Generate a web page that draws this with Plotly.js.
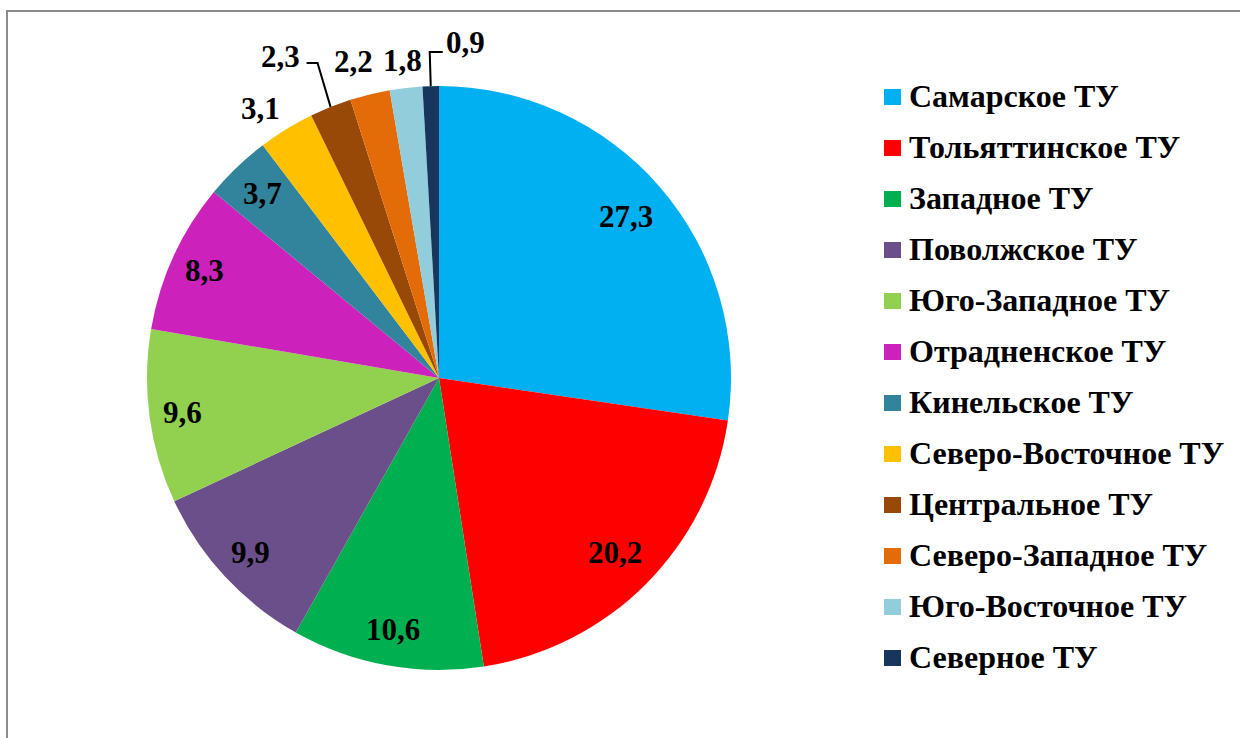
<!DOCTYPE html>
<html>
<head>
<meta charset="utf-8">
<script src="https://cdn.plot.ly/plotly-3.0.1.min.js"></script>
<style>html,body{margin:0;padding:0;background:#fff;}#chart{width:1240px;height:738px;}</style>
</head>
<body>
<div id="chart"></div>
<script>
const categories = ["Самарское ТУ","Тольяттинское ТУ","Западное ТУ","Поволжское ТУ","Юго-Западное ТУ","Отрадненское ТУ","Кинельское ТУ","Северо-Восточное ТУ","Центральное ТУ","Северо-Западное ТУ","Юго-Восточное ТУ","Северное ТУ"];
const shares = [27.3, 20.2, 10.6, 9.9, 9.6, 8.3, 3.7, 3.1, 2.3, 2.2, 1.8, 0.9];
const colors = ["#00B0F0","#FF0000","#00B050","#6A4F8A","#92D050","#CC22BB","#31849B","#FFC000","#984807","#E36C09","#92CDDC","#17365D"];
// label styling: inside (radial fraction) or outside (pixel offset from slice edge, optional elbow leader line)
const labelStyle = [
  {r: 0.847}, {r: 0.85}, {r: 0.876}, {r: 0.88}, {r: 0.888}, {r: 0.884}, {r: 0.874},
  {dx: -26, dy: -21},
  {dx: -50, dy: -50, leader: {lx: 26, ly: 6, h: 11}},
  {dx: -16, dy: -33},
  {dx: -4, dy: -27},
  {dx: 35, dy: -44, leader: {lx: -23, ly: 10, h: -13}}
];

const FONT = "Liberation Serif";
const W = 1240, H = 738;
const CX = 439, CY = 378, R = 292;
const px2x = x => x / W, px2y = y => (H - y) / H;

const trace = {
  type: "pie",
  labels: categories,
  values: shares,
  sort: false,
  direction: "clockwise",
  rotation: 0,
  marker: {colors: colors, line: {width: 0}},
  textinfo: "none",
  hoverinfo: "label+value",
  showlegend: false,
  domain: {x: [px2x(CX-R), px2x(CX+R)], y: [px2y(CY+R), px2y(CY-R)]}
};

const annotations = [];
const shapes = [];
const fmt = v => v.toFixed(1).replace(".", ",");
const labelFont = {family: FONT, size: 31, color: "#000", weight: "bold"};
// slice value labels, positioned from the data's cumulative angles
const total = shares.reduce((a, b) => a + b, 0);
let cum = 0;
shares.forEach((v, i) => {
  const ang = 2*Math.PI*(cum + v/2)/total;
  cum += v;
  const st = labelStyle[i];
  const s = Math.sin(ang), c = -Math.cos(ang);
  let lx, ly;
  if (st.r !== undefined) {
    lx = CX + st.r*R*s; ly = CY + st.r*R*c;
  } else {
    const ex = CX + R*s, ey = CY + R*c;
    lx = ex + st.dx; ly = ey + st.dy;
    if (st.leader) {
      const endX = lx + st.leader.lx, endY = ly + st.leader.ly;
      const cx = endX + st.leader.h;
      shapes.push({type: "path", xref: "paper", yref: "paper",
        path: `M ${px2x(ex)} ${px2y(ey)} L ${px2x(cx)} ${px2y(endY)} L ${px2x(endX)} ${px2y(endY)}`,
        line: {color: "#000", width: 2}});
    }
  }
  annotations.push({xref: "paper", yref: "paper", x: px2x(lx), y: px2y(ly),
    xanchor: "center", yanchor: "middle", showarrow: false, text: fmt(v), font: labelFont});
});

// chart border
shapes.push({type: "rect", xref: "paper", yref: "paper", x0: px2x(7), x1: 1.01, y0: -0.01, y1: px2y(11), line: {color: "#8c8c8c", width: 2}, fillcolor: "rgba(0,0,0,0)"});
// legend
const legTop = 97, legStep = 51;
categories.forEach((name, i) => {
  const yc = legTop + i*legStep;
  shapes.push({type: "rect", xref: "paper", yref: "paper",
    x0: px2x(884), x1: px2x(901), y0: px2y(yc+8), y1: px2y(yc-8),
    fillcolor: colors[i], line: {width: 0}});
  annotations.push({xref: "paper", yref: "paper", x: px2x(907), y: px2y(yc-1),
    xanchor: "left", yanchor: "middle", showarrow: false, text: name,
    font: {family: FONT, size: 32, color: "#000", weight: "bold"}});
});

const layout = {
  width: W, height: H,
  margin: {l: 0, r: 0, t: 0, b: 0},
  paper_bgcolor: "#fff",
  separators: ", ",
  showlegend: false,
  shapes: shapes,
  annotations: annotations
};

Plotly.newPlot("chart", [trace], layout, {staticPlot: true});
</script>
</body>
</html>
